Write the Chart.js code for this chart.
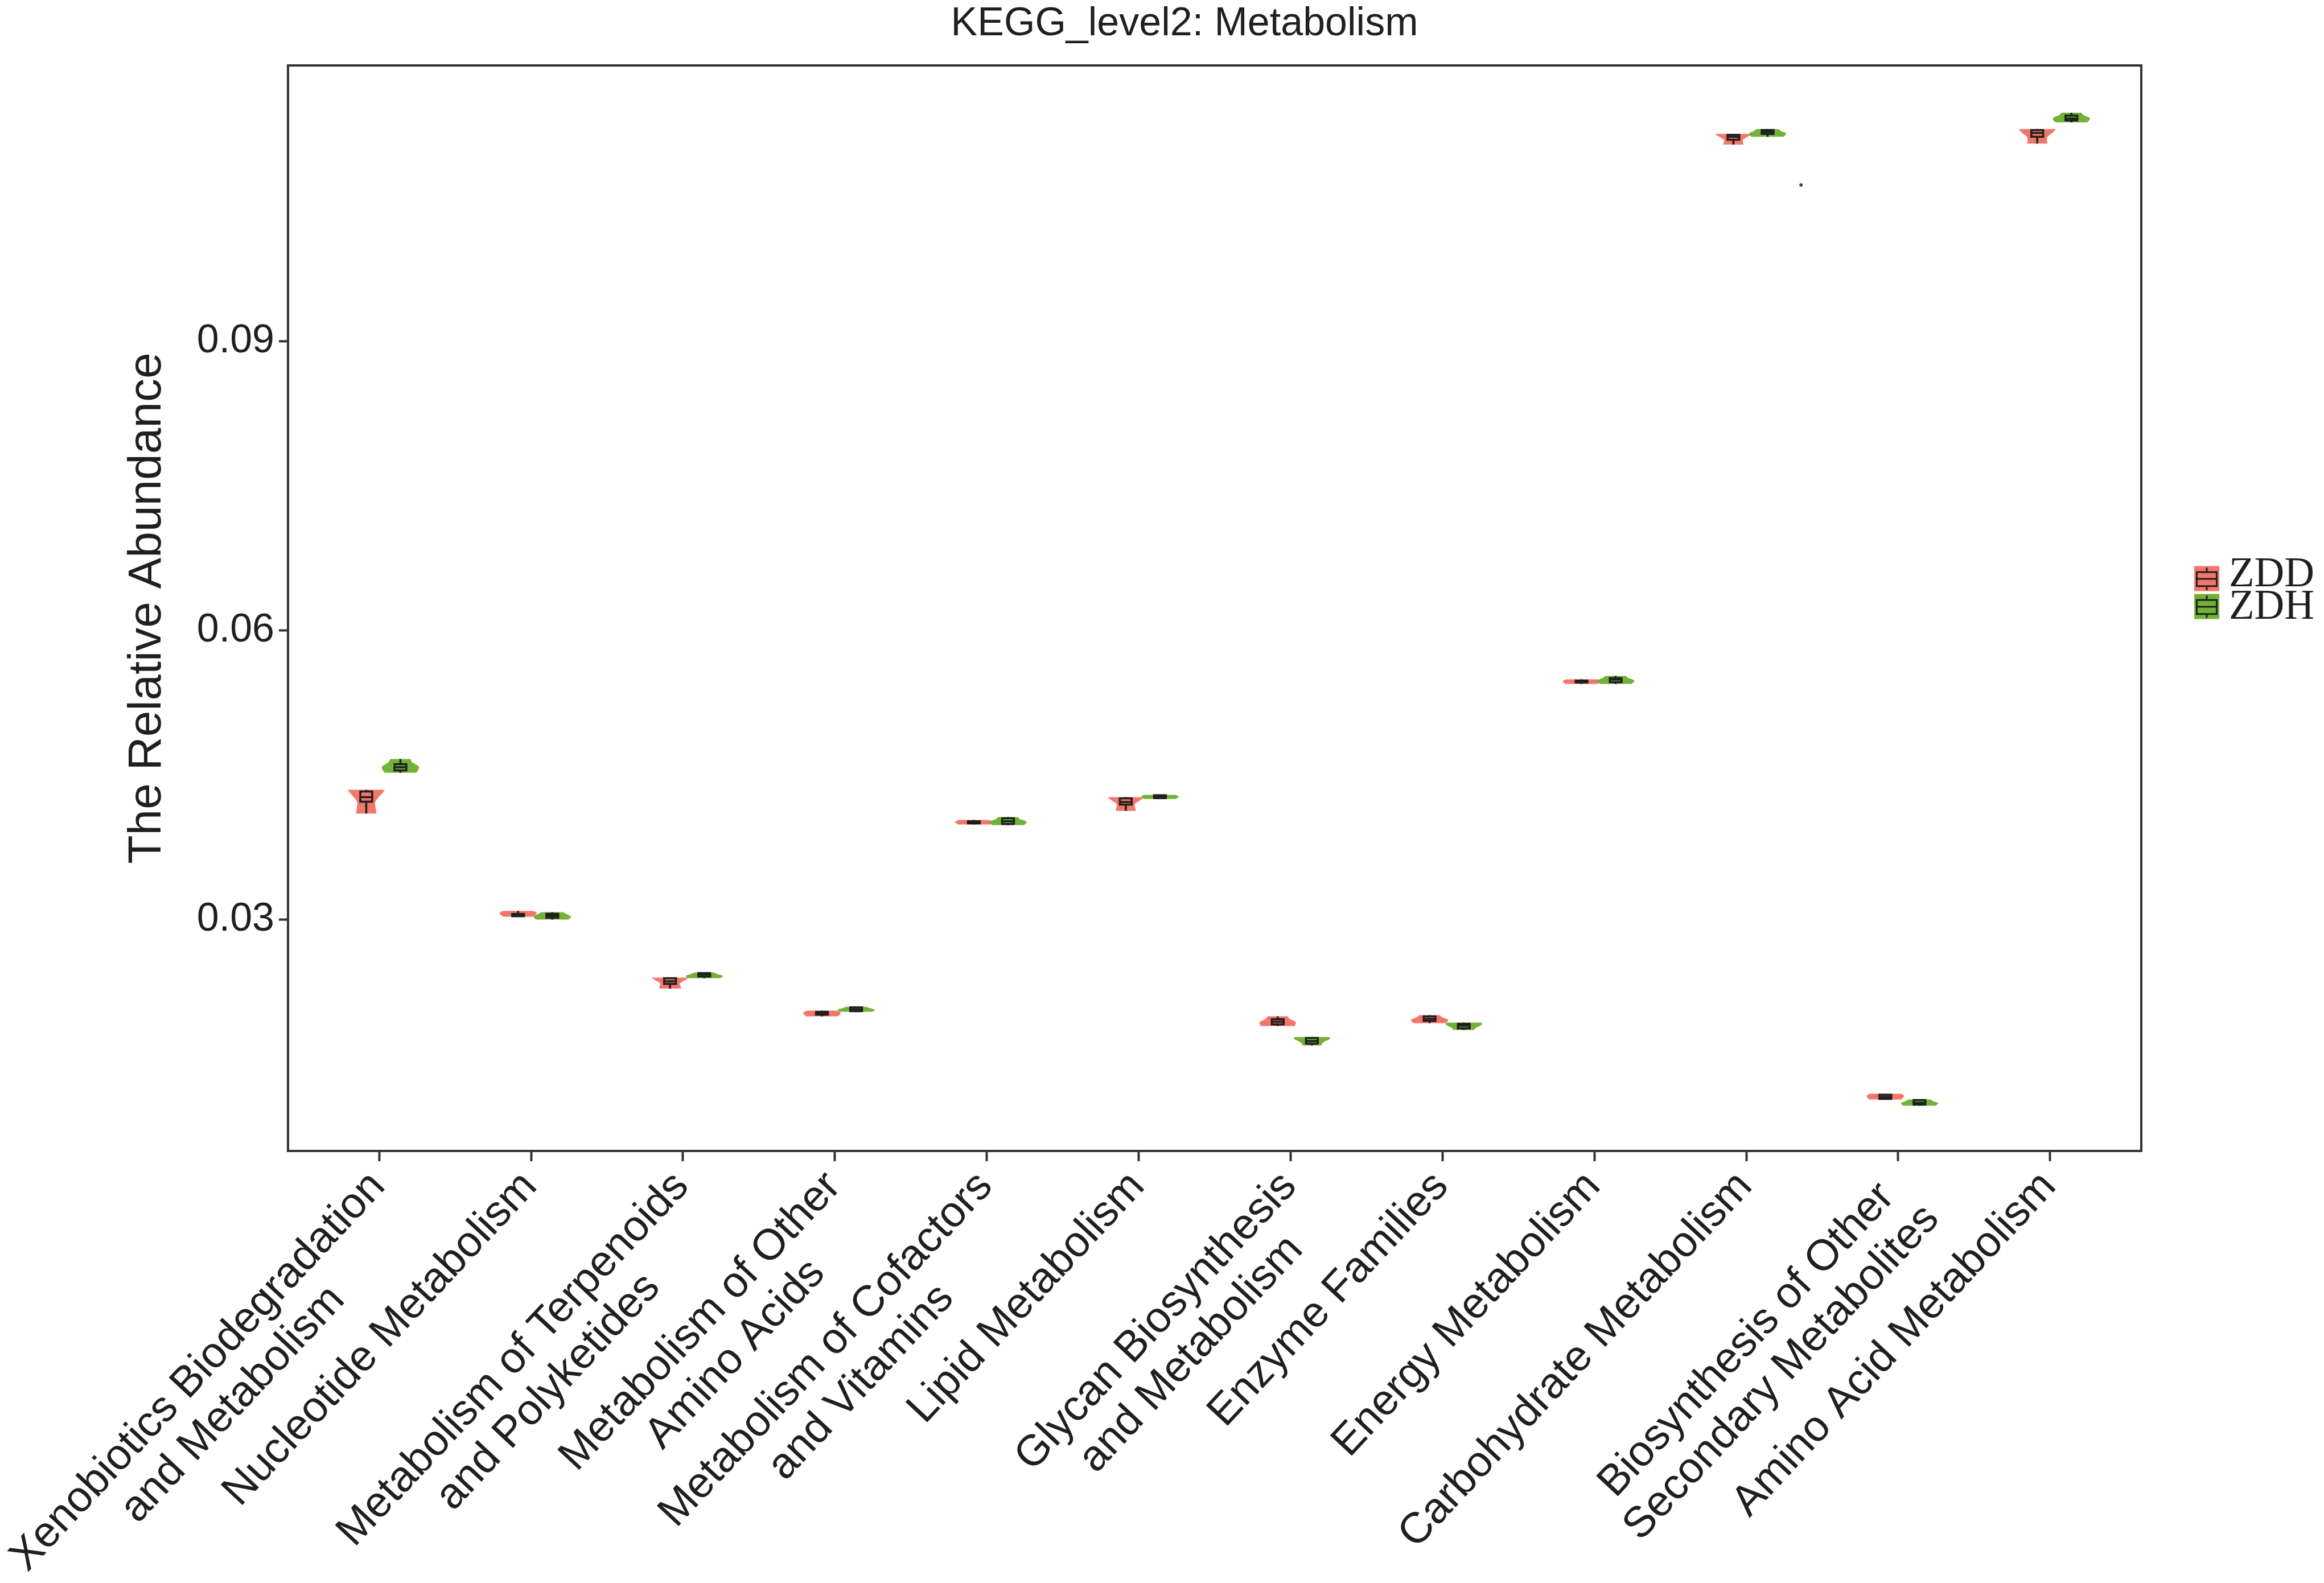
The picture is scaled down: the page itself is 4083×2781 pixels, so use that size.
<!DOCTYPE html>
<html>
<head>
<meta charset="utf-8">
<script src="https://cdn.jsdelivr.net/npm/chart.js@4.4.1/dist/chart.umd.min.js"></script>
<style>
  html, body { margin: 0; padding: 0; background: #fff; }
</style>
</head>
<body>
<canvas id="chart" width="4083" height="2781"></canvas>
<script>
// categories along the x axis (two-line labels as arrays)
const categories = [
	['Xenobiotics Biodegradation', 'and Metabolism'],
	'Nucleotide Metabolism',
	['Metabolism of Terpenoids', 'and Polyketides'],
	['Metabolism of Other', 'Amino Acids'],
	['Metabolism of Cofactors', 'and Vitamins'],
	'Lipid Metabolism',
	['Glycan Biosynthesis', 'and Metabolism'],
	'Enzyme Families',
	'Energy Metabolism',
	'Carbohydrate Metabolism',
	['Biosynthesis of Other', 'Secondary Metabolites'],
	'Amino Acid Metabolism'
];
const groups = ['ZDD', 'ZDH'];
const chartTitle = 'KEGG_level2: Metabolism';

// ZDD: min, lower quartile, median, upper quartile, max
const zddMin    = [0.04100, 0.03030, 0.02285, 0.01996, 0.03986, 0.04128, 0.01896, 0.01925, 0.05445, 0.1104, 0.01134, 0.1105];
const zddQ1     = [0.04223, 0.03035, 0.02333, 0.02014, 0.03998, 0.04193, 0.01913, 0.01949, 0.05460, 0.1109, 0.01140, 0.1112];
const zddMedian = [0.04270, 0.03047, 0.02360, 0.02030, 0.04010, 0.04220, 0.01940, 0.01970, 0.05470, 0.1112, 0.01160, 0.1116];
const zddQ3     = [0.04329, 0.03059, 0.02392, 0.02043, 0.04020, 0.04258, 0.01966, 0.01996, 0.05480, 0.1114, 0.01183, 0.1119];
const zddMax    = [0.04347, 0.03090, 0.02398, 0.02055, 0.04033, 0.04270, 0.01996, 0.02008, 0.05492, 0.1115, 0.01193, 0.1120];

// ZDH: min, lower quartile, median, upper quartile, max
const zdhMin    = [0.04524, 0.03000, 0.02392, 0.02043, 0.03980, 0.04252, 0.01695, 0.01854, 0.05445, 0.1112, 0.01069, 0.1127];
const zdhQ1     = [0.04547, 0.03020, 0.02410, 0.02050, 0.03992, 0.04260, 0.01713, 0.01872, 0.05463, 0.1115, 0.01081, 0.1129];
const zdhMedian = [0.04580, 0.03040, 0.02430, 0.02070, 0.04020, 0.04275, 0.01740, 0.01900, 0.05490, 0.1117, 0.01100, 0.1131];
const zdhQ3     = [0.04612, 0.03060, 0.02445, 0.02090, 0.04051, 0.04290, 0.01772, 0.01919, 0.05504, 0.1119, 0.01128, 0.1134];
const zdhMax    = [0.04665, 0.03077, 0.02451, 0.02096, 0.04063, 0.04293, 0.01783, 0.01931, 0.05528, 0.1120, 0.01134, 0.1137];

// relative violin density, sampled from the top (max) down to the bottom (min)
const zddDensity = [
	[1.00, 0.75, 0.45, 0.50, 0.55],
	[0.80, 1.00, 1.00, 0.90, 0.80],
	[1.00, 0.80, 0.50, 0.55, 0.60],
	[0.80, 1.00, 1.00, 0.95, 0.85],
	[0.80, 1.00, 1.00, 0.95, 0.85],
	[1.00, 0.75, 0.45, 0.50, 0.55],
	[0.55, 0.60, 0.95, 1.00, 0.90],
	[0.55, 0.65, 1.00, 1.00, 0.85],
	[0.85, 1.00, 1.00, 0.95, 0.85],
	[1.00, 0.80, 0.50, 0.50, 0.55],
	[0.85, 1.00, 1.00, 0.95, 0.85],
	[1.00, 0.85, 0.55, 0.50, 0.55]
];
const zdhDensity = [
	[0.55, 0.60, 1.00, 1.00, 0.85],
	[0.60, 0.75, 1.00, 1.00, 0.85],
	[0.55, 0.65, 1.00, 1.00, 0.85],
	[0.55, 0.70, 1.00, 1.00, 0.85],
	[0.55, 0.60, 1.00, 1.00, 0.85],
	[0.85, 1.00, 1.00, 0.95, 0.85],
	[0.95, 1.00, 0.70, 0.55, 0.50],
	[0.95, 1.00, 0.80, 0.60, 0.55],
	[0.55, 0.65, 1.00, 1.00, 0.85],
	[0.60, 0.70, 1.00, 1.00, 0.85],
	[0.60, 0.70, 1.00, 1.00, 0.85],
	[0.55, 0.60, 1.00, 1.00, 0.85]
];

// lone stray mark near the carbohydrate pair
const strayPoints = [{x: 9.36, y: 0.1062}];

const yTicks = [0.03, 0.06, 0.09];

// styles
const zddColor = '#F3766B';
const zdhColor = '#72B236';
const inkColor = '#1f1f1f';
const frameColor = '#333333';
const violinWidth = 0.245;	// in category units
const boxWidth = 0.078;
const labelAngle = 47;		// degrees
const sansFont = '"Liberation Sans", Arial, sans-serif';
const serifFont = '"Liberation Serif", "Times New Roman", serif';

const series = [
	{label: groups[0], color: zddColor, shift: -0.085, min: zddMin, q1: zddQ1, med: zddMedian, q3: zddQ3, max: zddMax, density: zddDensity},
	{label: groups[1], color: zdhColor, shift: 0.14, min: zdhMin, q1: zdhQ1, med: zdhMedian, q3: zdhQ3, max: zdhMax, density: zdhDensity}
];

// draw one violin outline through the scales, smoothing the sides
function drawViolin(ctx, xs, ys, cx, s, i) {
	let d = s.density[i];
	let top = ys.getPixelForValue(s.max[i]);
	let bot = ys.getPixelForValue(s.min[i]);
	let n = d.length;
	let left = [], right = [];
	for (let k = 0; k < n; k++) {
		let yy = top + (bot - top) * k / (n - 1);
		left.push([xs.getPixelForValue(cx - d[k] * violinWidth / 2), yy]);
		right.push([xs.getPixelForValue(cx + d[k] * violinWidth / 2), yy]);
	}
	right.reverse();
	ctx.beginPath();
	ctx.moveTo(right[n - 1][0], right[n - 1][1]);
	ctx.lineTo(left[0][0], left[0][1]);
	for (let k = 1; k < n - 1; k++) {
		let mx = (left[k][0] + left[k + 1][0]) / 2, my = (left[k][1] + left[k + 1][1]) / 2;
		ctx.quadraticCurveTo(left[k][0], left[k][1], mx, my);
	}
	ctx.lineTo(left[n - 1][0], left[n - 1][1]);
	ctx.lineTo(right[0][0], right[0][1]);
	for (let k = 1; k < n - 1; k++) {
		let mx = (right[k][0] + right[k + 1][0]) / 2, my = (right[k][1] + right[k + 1][1]) / 2;
		ctx.quadraticCurveTo(right[k][0], right[k][1], mx, my);
	}
	ctx.lineTo(right[n - 1][0], right[n - 1][1]);
	ctx.closePath();
	ctx.fillStyle = s.color;
	ctx.fill();
}

function drawBox(ctx, xs, ys, cx, s, i) {
	let x0 = xs.getPixelForValue(cx - boxWidth / 2);
	let x1 = xs.getPixelForValue(cx + boxWidth / 2);
	let xm = xs.getPixelForValue(cx);
	let yq1 = ys.getPixelForValue(s.q1[i]);
	let yq3 = ys.getPixelForValue(s.q3[i]);
	ctx.strokeStyle = inkColor;
	ctx.lineWidth = 3.5;
	ctx.beginPath();
	ctx.moveTo(xm, ys.getPixelForValue(s.max[i]));
	ctx.lineTo(xm, yq3);
	ctx.moveTo(xm, yq1);
	ctx.lineTo(xm, ys.getPixelForValue(s.min[i]));
	ctx.stroke();
	ctx.fillStyle = s.color;
	ctx.fillRect(x0, yq3, x1 - x0, yq1 - yq3);
	ctx.strokeRect(x0, yq3, x1 - x0, yq1 - yq3);
	ctx.beginPath();
	ctx.moveTo(x0, ys.getPixelForValue(s.med[i]));
	ctx.lineTo(x1, ys.getPixelForValue(s.med[i]));
	ctx.stroke();
}

// small boxplot key like the one in the legend
function drawKey(ctx, x, y, size, color) {
	ctx.fillStyle = color;
	ctx.fillRect(x, y, size, size);
	ctx.strokeStyle = inkColor;
	ctx.lineWidth = 3;
	ctx.strokeRect(x + size * 0.1, y + size * 0.24, size * 0.8, size * 0.56);
	ctx.beginPath();
	ctx.moveTo(x + size * 0.1, y + size * 0.51);
	ctx.lineTo(x + size * 0.9, y + size * 0.51);
	ctx.moveTo(x + size * 0.5, y + size * 0.06);
	ctx.lineTo(x + size * 0.5, y + size * 0.24);
	ctx.moveTo(x + size * 0.5, y + size * 0.8);
	ctx.lineTo(x + size * 0.5, y + size * 0.96);
	ctx.stroke();
}

const violinPlugin = {
	id: 'violins',
	afterDatasetsDraw(chart) {
		let ctx = chart.ctx;
		let xs = chart.scales.x, ys = chart.scales.y;
		ctx.save();
		chart.data.datasets.forEach((ds) => {
			if (!ds.stats) return;
			let s = ds.stats;
			for (let i = 0; i < categories.length; i++) {
				let cx = i + s.shift;
				drawViolin(ctx, xs, ys, cx, s, i);
				drawBox(ctx, xs, ys, cx, s, i);
			}
		});
		ctx.restore();
	},
	afterDraw(chart) {
		let ctx = chart.ctx;
		let area = chart.chartArea;
		let xs = chart.scales.x;
		ctx.save();

		// panel frame
		ctx.strokeStyle = frameColor;
		ctx.lineWidth = 4;
		ctx.strokeRect(area.left, area.top, area.right - area.left, area.bottom - area.top);

		// title, centred a little right of the canvas middle like the original
		ctx.fillStyle = inkColor;
		ctx.font = '70px ' + sansFont;
		ctx.textAlign = 'center';
		ctx.textBaseline = 'middle';
		ctx.fillText(chartTitle, (area.left + area.right) / 2 - 53, area.top / 2 - 15);

		// rotated category labels, lines centred within each label block
		ctx.font = '76px ' + sansFont;
		ctx.textAlign = 'center';
		ctx.textBaseline = 'top';
		let lineH = 84;
		categories.forEach((c, i) => {
			let lines = Array.isArray(c) ? c : [c];
			let w = Math.max(...lines.map(l => ctx.measureText(l).width));
			ctx.save();
			ctx.translate(xs.getPixelForValue(i) - 30, xs.top + 24);
			ctx.rotate(-labelAngle * Math.PI / 180);
			lines.forEach((l, k) => ctx.fillText(l, -w / 2, k * lineH));
			ctx.restore();
		});

		// legend on the right
		let keySize = 44;
		let lx = area.right + 93;
		let ly = (area.top + area.bottom) / 2 - 74;
		ctx.font = '73px ' + serifFont;
		ctx.textAlign = 'left';
		ctx.textBaseline = 'middle';
		series.forEach((s, k) => {
			let ky = ly + k * 49;
			drawKey(ctx, lx, ky, keySize, s.color);
			ctx.fillStyle = inkColor;
			ctx.fillText(s.label, lx + keySize + 17, ky + keySize / 2 - 6 + k * 8);
		});
		ctx.restore();
	}
};

let ctx = document.getElementById('chart').getContext('2d');

let config = {
	type: 'scatter',
	data: {
		datasets: series.map(s => ({
			label: s.label,
			data: s.med.map((m, i) => ({x: i + s.shift, y: m})),
			pointRadius: 0,
			backgroundColor: s.color,
			borderColor: s.color,
			stats: s
		})).concat([{
			label: 'stray',
			data: strayPoints,
			pointRadius: 3,
			backgroundColor: '#444',
			borderWidth: 0
		}])
	},
	options: {
		responsive: false,
		devicePixelRatio: 1,
		animation: false,
		layout: {padding: {left: 0, right: 321, top: 115, bottom: 0}},
		plugins: {
			legend: {display: false},
			tooltip: {enabled: false},
			title: {display: false}
		},
		scales: {
			x: {
				type: 'linear',
				min: -0.6,
				max: 11.6,
				afterBuildTicks: s => { s.ticks = categories.map((c, i) => ({value: i})); },
				afterFit: s => { s.height = 759; },
				ticks: {display: false},
				grid: {drawOnChartArea: false, drawTicks: true, tickLength: 18, tickColor: frameColor, tickWidth: 4},
				border: {display: true, color: frameColor, width: 4}
			},
			y: {
				type: 'linear',
				min: 0.006,
				max: 0.1186,
				afterBuildTicks: s => { s.ticks = yTicks.map(v => ({value: v})); },
				afterFit: s => { s.width = 506; },
				ticks: {
					color: inkColor,
					padding: 8,
					font: {family: sansFont, size: 70},
					callback: v => v.toFixed(2)
				},
				grid: {drawOnChartArea: false, drawTicks: true, tickLength: 16, tickColor: frameColor, tickWidth: 4},
				border: {display: true, color: frameColor, width: 4},
				title: {
					display: true,
					text: 'The Relative Abundance',
					color: inkColor,
					font: {family: sansFont, size: 82, lineHeight: 1.2},
					padding: {top: 210, bottom: 0}
				}
			}
		}
	},
	plugins: [violinPlugin]
};

let chart = new Chart(ctx, config);
</script>
</body>
</html>
